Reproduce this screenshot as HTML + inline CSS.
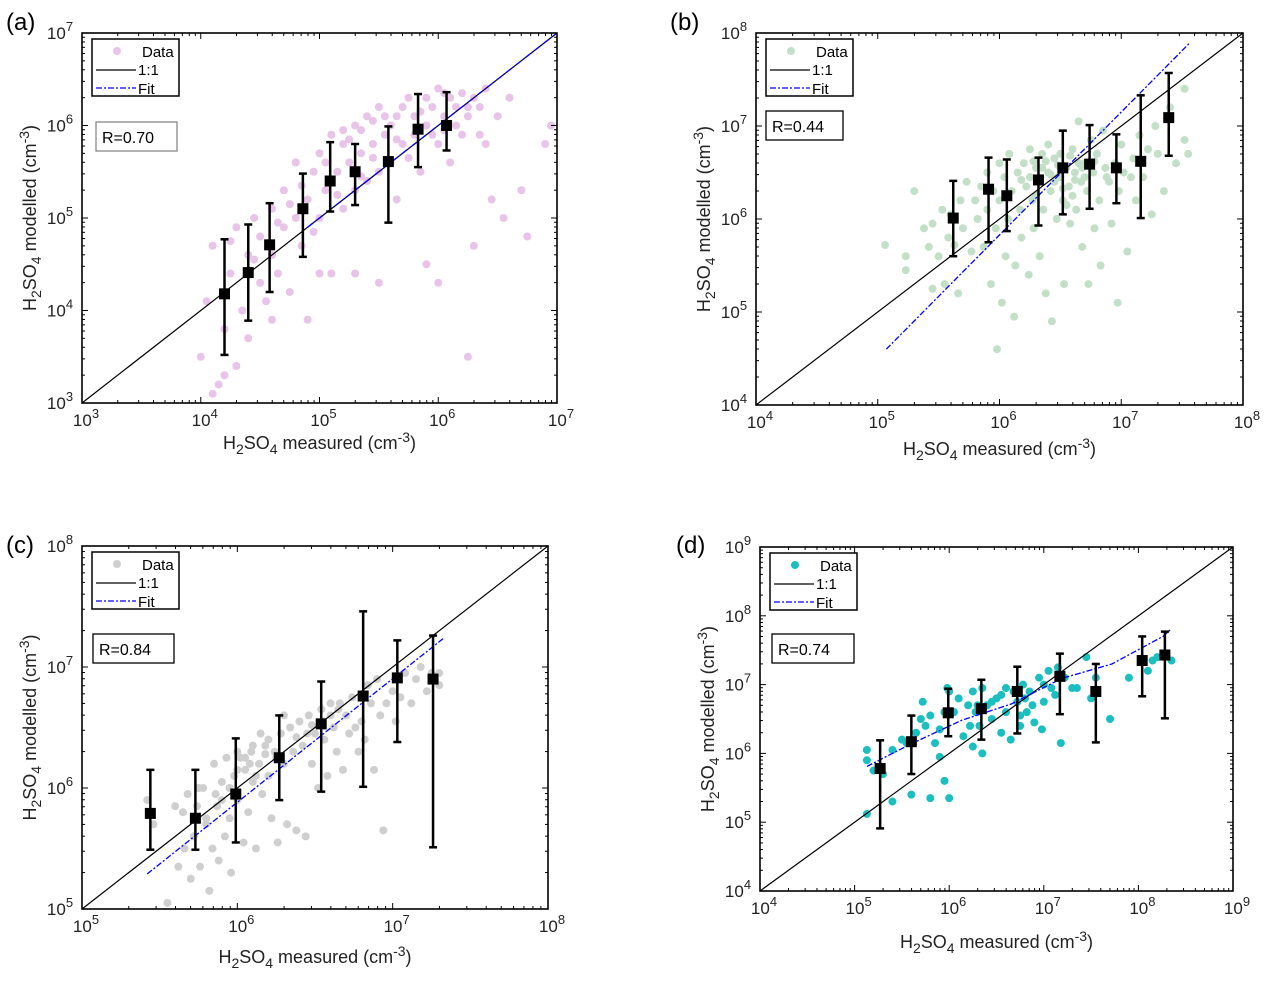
<!DOCTYPE html>
<html><head><meta charset="utf-8">
<style>
html,body{margin:0;padding:0;background:#fff;}
svg{display:block;font-family:"Liberation Sans",Arial,sans-serif;}
</style></head>
<body>
<svg id="root" width="1269" height="988" viewBox="0 0 1269 988" xmlns="http://www.w3.org/2000/svg"></svg>
<script>
// ---------- DATA (log10 units) ----------
// Panel (a)
const aPoints=[[4.0,3.5],[4.05,4.1],[4.1,4.7],[4.15,3.2],[4.2,3.8],[4.25,4.4],[4.3,3.4],[4.3,4.9],[4.35,4.0],[4.4,4.6],[4.4,3.7],[4.45,5.0],[4.5,4.3],[4.5,4.8],[4.55,4.1],[4.6,4.6],[4.6,5.1],[4.65,4.4],[4.7,4.9],[4.7,5.3],[4.75,4.2],[4.8,5.0],[4.8,5.6],[4.85,4.7],[4.9,5.2],[4.9,3.9],[4.95,5.5],[5.0,5.0],[5.0,5.7],[5.05,5.3],[5.1,5.9],[5.1,4.4],[5.15,5.5],[5.2,5.8],[5.2,5.1],[5.25,5.6],[5.3,6.0],[5.3,5.3],[5.35,5.7],[5.4,5.4],[5.4,6.1],[5.45,5.8],[5.5,5.5],[5.5,6.2],[5.55,5.9],[5.6,5.6],[5.6,6.0],[5.65,5.2],[5.7,6.2],[5.7,5.8],[5.75,6.3],[5.8,5.9],[5.8,6.1],[5.85,5.5],[5.9,6.3],[5.9,6.0],[5.95,6.2],[6.0,5.8],[6.0,6.4],[6.05,6.1],[6.1,6.3],[6.1,5.6],[6.15,6.2],[6.2,6.35],[6.2,5.9],[6.25,6.1],[6.3,6.3],[6.3,4.7],[6.35,6.2],[6.4,5.8],[6.4,6.4],[6.45,5.2],[6.5,6.1],[6.55,5.0],[6.6,6.3],[6.7,5.3],[6.75,4.8],[6.9,5.8],[6.95,6.0],[5.3,4.4],[5.5,4.3],[5.0,4.4],[4.6,3.9],[4.2,3.3],[6.25,3.5],[4.1,3.1],[5.9,4.5],[6.0,4.3],[5.2,5.95],[5.45,6.05],[5.75,5.65],[6.15,6.0],[4.95,4.85],[5.15,5.25],[5.35,5.45],[5.65,6.1],[6.05,5.95],[6.35,5.9],[4.25,4.75],[4.45,4.55],[4.65,4.95],[4.85,5.35],[5.05,5.6],[5.25,5.85],[5.45,5.65],[5.65,5.85],[5.85,6.15],[6.05,6.35],[6.25,6.2],[5.55,6.1],[5.95,5.9],[4.75,5.15],[5.35,5.95]];
const aMeanX=[4.20,4.40,4.58,4.86,5.09,5.30,5.58,5.83,6.07];
const aMeanY=[4.18,4.41,4.71,5.10,5.40,5.50,5.61,5.96,6.00];
const aLo=[3.52,3.89,4.20,4.58,5.07,5.14,4.95,5.55,5.73];
const aHi=[4.77,4.93,5.16,5.48,5.82,5.80,5.99,6.34,6.36];
const aFitX=[4.9,7.0];const aFitY=[4.9,7.0];
// Panel (b)
const bPoints=[[5.06,5.72],[5.23,5.6],[5.23,5.45],[5.3,6.3],[5.38,5.9],[5.42,5.7],[5.45,5.25],[5.45,5.95],[5.5,5.6],[5.53,6.1],[5.55,5.3],[5.58,5.8],[5.6,6.05],[5.63,5.72],[5.66,5.2],[5.68,6.2],[5.7,5.9],[5.73,6.4],[5.77,5.65],[5.8,6.2],[5.82,6.0],[5.85,6.35],[5.87,5.7],[5.9,6.5],[5.9,6.1],[5.93,5.3],[5.95,6.3],[5.97,5.9],[5.98,4.6],[6.0,6.6],[6.0,6.2],[6.02,5.1],[6.04,6.45],[6.05,5.6],[6.07,6.0],[6.08,6.7],[6.1,6.3],[6.12,4.95],[6.13,5.5],[6.15,6.5],[6.17,6.1],[6.18,5.8],[6.2,6.6],[6.22,6.35],[6.24,5.4],[6.25,6.75],[6.27,6.2],[6.28,5.9],[6.3,6.55],[6.32,6.4],[6.33,5.6],[6.35,6.7],[6.36,6.1],[6.38,5.2],[6.4,6.5],[6.42,6.3],[6.43,4.9],[6.45,6.65],[6.47,6.0],[6.48,6.45],[6.5,6.7],[6.52,6.2],[6.53,5.3],[6.55,6.55],[6.57,6.35],[6.58,5.95],[6.6,6.75],[6.62,6.5],[6.63,6.1],[6.65,7.05],[6.67,6.4],[6.68,5.7],[6.7,6.6],[6.72,6.3],[6.73,5.3],[6.75,6.85],[6.77,6.5],[6.78,5.9],[6.8,6.7],[6.82,6.2],[6.83,5.5],[6.85,6.95],[6.87,6.55],[6.9,6.4],[6.92,5.95],[6.95,6.6],[6.97,5.1],[6.98,6.3],[7.0,6.8],[7.02,6.5],[7.05,5.65],[7.08,6.45],[7.1,6.65],[7.12,6.2],[7.15,6.9],[7.18,6.45],[7.22,6.75],[7.25,6.05],[7.28,7.0],[7.3,6.7],[7.35,6.3],[7.4,7.2],[7.45,6.6],[7.52,7.4],[7.55,6.7],[7.52,6.85],[6.4,6.8],[6.6,6.25],[6.5,6.45],[6.7,6.45],[6.3,6.25],[6.45,6.4],[6.55,6.15],[6.35,6.55],[6.65,6.6],[6.25,6.45],[6.38,6.62],[6.48,6.58],[6.58,6.68],[6.68,6.55],[6.42,6.48],[6.52,6.33],[6.62,6.42],[6.28,6.62],[6.18,6.42],[6.78,6.62],[6.88,6.45]];
const bMeanX=[5.62,5.91,6.06,6.32,6.52,6.74,6.96,7.16,7.39];
const bMeanY=[6.01,6.32,6.25,6.42,6.55,6.59,6.55,6.62,7.09];
const bLo=[5.60,5.75,5.87,5.93,6.05,6.11,6.17,6.01,6.68];
const bHi=[6.41,6.66,6.64,6.66,6.95,7.01,6.91,7.33,7.57];
const bFitX=[5.07,7.56];const bFitY=[4.60,7.89];
// Panel (c)
const cPoints=[[5.42,5.9],[5.46,5.7],[5.55,5.05],[5.62,5.35],[5.65,5.8],[5.66,5.5],[5.68,5.95],[5.7,5.25],[5.72,5.6],[5.74,5.85],[5.76,5.35],[5.78,6.0],[5.8,5.7],[5.82,5.15],[5.84,5.5],[5.85,6.2],[5.87,5.85],[5.88,5.4],[5.9,6.05],[5.92,5.6],[5.93,6.25],[5.95,5.75],[5.96,5.3],[5.98,6.1],[6.0,5.9],[6.02,6.25],[6.04,5.55],[6.05,6.15],[6.07,5.8],[6.09,6.3],[6.1,6.05],[6.12,5.5],[6.14,6.2],[6.16,5.95],[6.18,6.35],[6.2,6.1],[6.22,5.75],[6.24,6.3],[6.26,5.55],[6.28,6.45],[6.3,6.2],[6.32,5.7],[6.34,6.5],[6.36,6.3],[6.38,5.65],[6.4,6.55],[6.42,6.35],[6.44,5.6],[6.46,6.6],[6.48,6.2],[6.5,6.45],[6.52,6.0],[6.54,6.65],[6.56,6.4],[6.58,6.1],[6.6,6.7],[6.62,6.5],[6.64,6.3],[6.66,6.7],[6.68,6.15],[6.7,6.6],[6.72,6.45],[6.74,6.75],[6.76,6.5],[6.78,6.3],[6.8,6.55],[6.82,6.4],[6.84,6.85],[6.86,6.7],[6.88,6.15],[6.9,6.9],[6.92,6.6],[6.94,5.65],[6.96,6.7],[7.0,6.8],[7.02,6.55],[7.05,6.75],[7.08,6.95],[7.12,6.7],[7.15,6.9],[7.18,7.0],[7.22,6.8],[7.25,6.95],[7.3,6.95],[7.3,6.85],[5.6,5.85],[5.75,6.0],[6.0,6.3],[6.1,6.35],[6.2,6.4],[6.3,6.6],[6.45,6.45],[6.55,6.55],[6.65,6.65],[5.95,6.0],[6.05,6.25],[6.25,6.25],[6.15,6.45],[5.8,5.75],[5.9,5.9],[6.08,6.2],[6.18,6.28],[6.38,6.42],[6.48,6.52],[6.6,6.6],[5.86,5.95],[6.0,6.15],[6.12,6.1]];
const cMeanX=[5.44,5.73,5.99,6.27,6.54,6.81,7.03,7.26];
const cMeanY=[5.79,5.75,5.95,6.25,6.53,6.76,6.91,6.90];
const cLo=[5.49,5.49,5.55,5.90,5.97,6.01,6.38,5.51];
const cHi=[6.15,6.15,6.41,6.60,6.88,7.46,7.22,7.26];
const cFitX=[5.42,7.33];const cFitY=[5.29,7.24];
// Panel (d)
const dPoints=[[5.13,5.12],[5.13,5.9],[5.13,6.05],[5.2,5.75],[5.3,5.7],[5.4,5.3],[5.4,6.05],[5.5,6.2],[5.55,6.15],[5.6,5.4],[5.65,6.3],[5.7,6.5],[5.72,6.75],[5.8,6.55],[5.8,5.35],[5.85,6.15],[5.9,6.35],[5.9,5.95],[5.95,5.6],[5.95,6.6],[5.98,6.95],[6.0,5.35],[6.0,6.9],[6.05,6.6],[6.1,6.8],[6.15,6.25],[6.2,6.7],[6.22,6.4],[6.25,6.9],[6.28,6.6],[6.3,6.7],[6.32,6.4],[6.35,6.95],[6.35,6.0],[6.4,6.7],[6.45,6.5],[6.5,6.8],[6.55,6.85],[6.55,6.3],[6.6,6.6],[6.65,6.2],[6.68,6.9],[6.72,6.75],[6.75,6.55],[6.78,7.0],[6.8,6.8],[6.82,6.6],[6.85,6.9],[6.88,6.7],[6.9,6.45],[6.95,7.1],[6.98,6.35],[7.0,6.75],[7.05,7.2],[7.08,6.95],[7.12,6.85],[7.15,7.25],[7.18,6.15],[7.22,7.1],[7.3,6.95],[7.35,6.95],[7.45,7.4],[7.5,6.8],[7.55,7.1],[7.7,6.5],[7.9,7.1],[8.1,7.2],[8.15,7.35],[8.2,7.4],[8.35,7.35],[6.25,6.1],[6.6,6.95],[6.75,6.4],[7.0,7.0],[6.45,6.75],[5.75,6.4]];
const dMeanX=[5.27,5.60,5.99,6.34,6.72,7.17,7.55,8.04,8.28];
const dMeanY=[5.78,6.17,6.59,6.65,6.90,7.12,6.90,7.35,7.43];
const dLo=[4.91,5.70,6.25,6.20,6.29,6.57,6.16,6.83,6.51];
const dHi=[6.19,6.55,6.94,7.07,7.26,7.45,7.30,7.70,7.77];
const dFitX=[5.13,5.60,6.13,6.66,7.19,7.72,8.26,8.34];
const dFitY=[5.81,6.14,6.48,6.72,7.09,7.30,7.70,7.80];

// ---------- DRAWING ----------
const NS="http://www.w3.org/2000/svg";
const root=document.getElementById('root');
function mk(tag,attrs,parent){const e=document.createElementNS(NS,tag);for(const k in attrs)e.setAttribute(k,attrs[k]);(parent||root).appendChild(e);return e;}

function panel(cfg){
  const g=mk('g',{});
  
  
  const sx=v=>cfg.L+(v-cfg.x0)/(cfg.x1-cfg.x0)*(cfg.R-cfg.L);
  const sy=v=>cfg.B-(v-cfg.y0)/(cfg.y1-cfg.y0)*(cfg.B-cfg.T);
  const pg=mk('g',{},g);
  
  
  cfg.pts.forEach(p=>{const c=mk('circle',{cx:sx(p[0]),cy:sy(p[1]),r:4,fill:cfg.col},pg);
    
    });
  const lo=Math.max(cfg.x0,cfg.y0),hi=Math.min(cfg.x1,cfg.y1);
  const l=mk('line',{x1:sx(lo),y1:sy(lo),x2:sx(hi),y2:sy(hi),stroke:'#000','stroke-width':1.2},g);
  
  
  const fp=cfg.fx.map((x,i)=>sx(x)+','+sy(cfg.fy[i])).join(' ');
  const f=mk('polyline',{points:fp,fill:'none',stroke:'#0000ff','stroke-width':1.3,'stroke-dasharray':'6,2,2,2'},g);
  
  
  cfg.mx.forEach((x,i)=>{
    const X=sx(x);
    const eg=mk('g',{stroke:'#000','stroke-width':2.5},g);
    
    
    mk('line',{x1:X,y1:sy(cfg.lo[i]),x2:X,y2:sy(cfg.hi[i])},eg);
    mk('line',{x1:X-4,y1:sy(cfg.lo[i]),x2:X+4,y2:sy(cfg.lo[i])},eg);
    mk('line',{x1:X-4,y1:sy(cfg.hi[i]),x2:X+4,y2:sy(cfg.hi[i])},eg);
    mk('rect',{x:X-5.5,y:sy(cfg.my[i])-5.5,width:11,height:11,fill:'#000',stroke:'none'},eg);
  });
  const bx=mk('rect',{x:cfg.L,y:cfg.T,width:cfg.R-cfg.L,height:cfg.B-cfg.T,fill:'none',stroke:'#000','stroke-width':1.6},g);
  
  
  const tg=mk('g',{stroke:'#000','stroke-width':1},g);
  for(let d=cfg.x0;d<cfg.x1;d++){for(let m=1;m<10;m++){const X=sx(d+Math.log10(m));const len=m==1?6:3;
    mk('line',{x1:X,y1:cfg.B,x2:X,y2:cfg.B-len},tg);mk('line',{x1:X,y1:cfg.T,x2:X,y2:cfg.T+len},tg);}}
  for(let d=cfg.y0;d<cfg.y1;d++){for(let m=1;m<10;m++){const Y=sy(d+Math.log10(m));const len=m==1?6:3;
    mk('line',{x1:cfg.L,y1:Y,x2:cfg.L+len,y2:Y},tg);mk('line',{x1:cfg.R,y1:Y,x2:cfg.R-len,y2:Y},tg);}}
  for(let d=cfg.x0;d<=cfg.x1;d++){
    const t=mk('text',{x:sx(d)+4,y:cfg.B+23,'font-size':17,'text-anchor':'middle',fill:'#222'},g);
    
    
    t.innerHTML='10<tspan dy="-8" font-size="13">'+d+'</tspan>';}
  for(let d=cfg.y0;d<=cfg.y1;d++){
    const t=mk('text',{x:cfg.L-22,y:sy(d)+6,'font-size':17,'text-anchor':'middle',fill:'#222'},g);
    
    
    t.innerHTML='10<tspan dy="-8" font-size="13">'+d+'</tspan>';}
  const xt=mk('text',{x:(cfg.L+cfg.R)/2,y:cfg.B+cfg.xlo,'font-size':18,'text-anchor':'middle',fill:'#222'},g);
  
  
  xt.innerHTML='H<tspan dy="5" font-size="14">2</tspan><tspan dy="-5">SO</tspan><tspan dy="5" font-size="14">4</tspan><tspan dy="-5"> measured (cm</tspan><tspan dy="-7" font-size="14">-3</tspan><tspan dy="7">)</tspan>';
  const yc=(cfg.T+cfg.B)/2, yx=cfg.L-cfg.ylo;
  const yt=mk('text',{x:yx,y:yc,'font-size':18,'text-anchor':'middle',fill:'#222',transform:'rotate(-90 '+yx+' '+yc+')'},g);
  
  
  yt.innerHTML='H<tspan dy="5" font-size="14">2</tspan><tspan dy="-5">SO</tspan><tspan dy="5" font-size="14">4</tspan><tspan dy="-5"> modelled (cm</tspan><tspan dy="-7" font-size="14">-3</tspan><tspan dy="7">)</tspan>';
  const pl=mk('text',{x:cfg.plx,y:cfg.ply,'font-size':24,fill:'#000'},g);
  
  
  pl.textContent='('+cfg.id+')';
  const lx=cfg.L+10, ly=cfg.T+6;
  const lg=mk('g',{},g);
  
  
  mk('rect',{x:lx,y:ly,width:87,height:57,fill:'#fff',stroke:'#000','stroke-width':1.5},lg);
  mk('circle',{cx:lx+25,cy:ly+12,r:4,fill:cfg.col},lg);
  mk('line',{x1:lx+4,y1:ly+31,x2:lx+44,y2:ly+31,stroke:'#000','stroke-width':1.2},lg);
  mk('line',{x1:lx+4,y1:ly+49,x2:lx+44,y2:ly+49,stroke:'#00f','stroke-width':1.3,'stroke-dasharray':'6,2,2,2'},lg);
  [['Data',ly+18,lx+50],['1:1',ly+36,lx+46],['Fit',ly+55,lx+46]].forEach(e=>{
    const t=mk('text',{x:e[2],y:e[1],'font-size':15,fill:'#000'},lg);
    
    
    t.textContent=e[0];});
  const rg=mk('g',{},g);
  
  
  mk('rect',{x:lx+cfg.rdx,y:cfg.T+cfg.rdy,width:cfg.rw,height:29,fill:'#fff',stroke:cfg.rstroke,'stroke-width':1.3},rg);
  const rt=mk('text',{x:lx+cfg.rdx+6,y:cfg.T+cfg.rdy+21,'font-size':16,fill:'#000'},rg);
  rt.textContent=cfg.r;
}

panel({id:'a',L:82,R:557,T:33,B:403,x0:3,x1:7,y0:3,y1:7,col:'#e8c4e8',pts:aPoints,mx:aMeanX,my:aMeanY,lo:aLo,hi:aHi,fx:aFitX,fy:aFitY,plx:6,ply:30,xlo:46,ylo:46,rdx:4,rdy:89,rw:81,r:'R=0.70',rstroke:'#888'});
panel({id:'b',L:756,R:1243,T:33,B:405,x0:4,x1:8,y0:4,y1:8,col:'#c3dfc8',pts:bPoints,mx:bMeanX,my:bMeanY,lo:bLo,hi:bHi,fx:bFitX,fy:bFitY,plx:670,ply:30,xlo:50,ylo:46,rdx:0,rdy:78,rw:77,r:'R=0.44',rstroke:'#000'});
panel({id:'c',L:82,R:548,T:546,B:909,x0:5,x1:8,y0:5,y1:8,col:'#cfcfcf',pts:cPoints,mx:cMeanX,my:cMeanY,lo:cLo,hi:cHi,fx:cFitX,fy:cFitY,plx:6,ply:553,xlo:54,ylo:46,rdx:1,rdy:88,rw:81,r:'R=0.84',rstroke:'#000'});
panel({id:'d',L:760,R:1233,T:547,B:891,x0:4,x1:9,y0:4,y1:9,col:'#1bbfbf',pts:dPoints,mx:dMeanX,my:dMeanY,lo:dLo,hi:dHi,fx:dFitX,fy:dFitY,plx:676,ply:553,xlo:57,ylo:46,rdx:2,rdy:87,rw:82,r:'R=0.74',rstroke:'#000'});
</script>
</body></html>
